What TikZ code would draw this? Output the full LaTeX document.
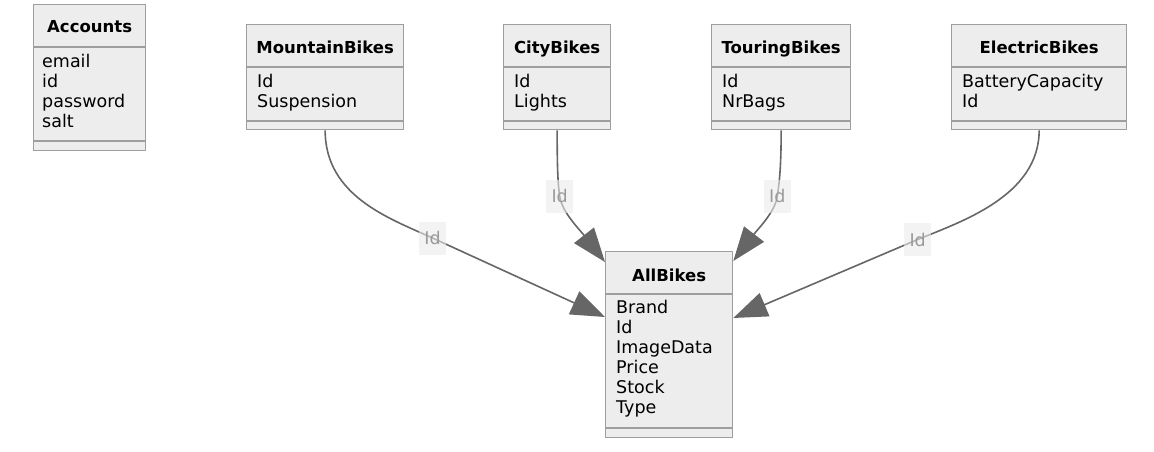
\documentclass[tikz,border=0pt]{standalone}
\usepackage{fontspec}
\setmainfont{DejaVu Sans}
\usetikzlibrary{arrows.meta}
\definecolor{boxfill}{HTML}{EDEDED}
\definecolor{boxline}{HTML}{9E9E9E}
\definecolor{edgecol}{HTML}{666666}
\definecolor{lblbg}{HTML}{EBEBEB}
\definecolor{lbltext}{HTML}{9A9A9A}
\begin{document}
\begin{tikzpicture}[x=1pt,y=-1pt,
  classbox/.style={draw=boxline, fill=boxfill, line width=1.3pt, rectangle, inner sep=0pt, anchor=north west},
  sepline/.style={draw=boxline, line width=1.3pt},
  title/.style={font=\fontsize{16.5}{20}\selectfont\bfseries, anchor=base, inner sep=0pt},
  attrs/.style={font=\fontsize{17.5}{20}\selectfont, align=left, anchor=north west, inner sep=0pt},
  rel/.style={draw=edgecol, line width=1.6pt, -{Triangle[length=34pt,width=25pt]}},
  lbl/.style={fill=lblbg, fill opacity=0.6, text opacity=1, text=lbltext, font=\fontsize{17.5}{20}\selectfont, minimum width=27pt, minimum height=33pt, inner sep=0pt}]
\fill[white] (0,0) rectangle (1154,452);
\useasboundingbox (0,0) rectangle (1154,452);

% Accounts
\node[classbox, minimum width=112pt, minimum height=146pt] (acc) at (33,4) {};
\draw[sepline] ([yshift=-43pt]acc.north west) -- ([yshift=-43pt]acc.north east);
\draw[sepline] ([yshift=-137pt]acc.north west) -- ([yshift=-137pt]acc.north east);
\node[title] (acct) at ([yshift=-29pt]acc.north) {Accounts};
\node[attrs] (acca) at ([xshift=9pt,yshift=-50pt]acc.north west) {email\\id\\password\\salt};

% MountainBikes
\node[classbox, minimum width=157pt, minimum height=105pt] (mb) at (246,24) {};
\draw[sepline] ([yshift=-43pt]mb.north west) -- ([yshift=-43pt]mb.north east);
\draw[sepline] ([yshift=-97pt]mb.north west) -- ([yshift=-97pt]mb.north east);
\node[title] (mbt) at ([yshift=-30pt]mb.north) {MountainBikes};
\node[attrs] (mba) at ([xshift=11pt,yshift=-50pt]mb.north west) {Id\\Suspension};

% CityBikes
\node[classbox, minimum width=107pt, minimum height=105pt] (cb) at (503,24) {};
\draw[sepline] ([yshift=-43pt]cb.north west) -- ([yshift=-43pt]cb.north east);
\draw[sepline] ([yshift=-97pt]cb.north west) -- ([yshift=-97pt]cb.north east);
\node[title] (cbt) at ([yshift=-30pt]cb.north) {CityBikes};
\node[attrs] (cba) at ([xshift=11pt,yshift=-50pt]cb.north west) {Id\\Lights};

% TouringBikes
\node[classbox, minimum width=139pt, minimum height=105pt] (tb) at (711,24) {};
\draw[sepline] ([yshift=-43pt]tb.north west) -- ([yshift=-43pt]tb.north east);
\draw[sepline] ([yshift=-97pt]tb.north west) -- ([yshift=-97pt]tb.north east);
\node[title] (tbt) at ([yshift=-30pt]tb.north) {TouringBikes};
\node[attrs] (tba) at ([xshift=11pt,yshift=-50pt]tb.north west) {Id\\NrBags};

% ElectricBikes
\node[classbox, minimum width=175pt, minimum height=105pt] (eb) at (951,24) {};
\draw[sepline] ([yshift=-43pt]eb.north west) -- ([yshift=-43pt]eb.north east);
\draw[sepline] ([yshift=-97pt]eb.north west) -- ([yshift=-97pt]eb.north east);
\node[title] (ebt) at ([yshift=-30pt]eb.north) {ElectricBikes};
\node[attrs] (eba) at ([xshift=11pt,yshift=-50pt]eb.north west) {BatteryCapacity\\Id};

% AllBikes
\node[classbox, minimum width=127pt, minimum height=186pt] (ab) at (605,251) {};
\draw[sepline] ([yshift=-43pt]ab.north west) -- ([yshift=-43pt]ab.north east);
\draw[sepline] ([yshift=-177pt]ab.north west) -- ([yshift=-177pt]ab.north east);
\node[title] (abt) at ([yshift=-30pt]ab.north) {AllBikes};
\node[attrs] (aba) at ([xshift=11pt,yshift=-49pt]ab.north west) {Brand\\Id\\ImageData\\Price\\Stock\\Type};

% label positions and arrow targets
\coordinate (lmc) at (432.5,238);
\coordinate (lcc) at (559.7,196.3);
\coordinate (ltc) at (777.3,196.3);
\coordinate (lec) at (917.7,239.5);
\coordinate (mt) at ([yshift=-66pt]ab.north west);
\coordinate (ct) at ([yshift=-11pt]ab.north west);
\coordinate (tt) at ([yshift=-10pt]ab.north east);
\coordinate (et) at ([yshift=-67pt]ab.north east);

% relations
\draw[rel] (mb.south) .. controls +(0,66) and (390,218.6) .. (lmc) -- (mt);
\draw[rel] (cb.south) .. controls +(0,41) and (558,184) .. (lcc) .. controls (562,212) and (578.6,228.4) .. (ct);
\draw[rel] (tb.south) .. controls +(0,41) and (779,184) .. (ltc) .. controls (775,212) and (758.4,228.4) .. (tt);
\draw[rel] (eb.south) .. controls +(0,66) and (960,222) .. (lec) -- (et);

% labels
\node[lbl] (lm) at (lmc) {Id};
\node[lbl] (lc) at (lcc) {Id};
\node[lbl] (lt) at (ltc) {Id};
\node[lbl] (le) at (lec) {Id};
\end{tikzpicture}
\end{document}
